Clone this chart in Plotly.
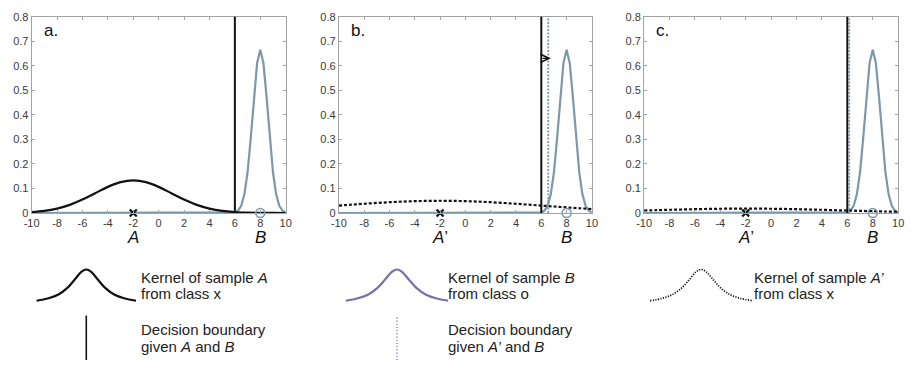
import plotly.graph_objects as go

# ---------------- data ----------------
x_ticks = [-10, -8, -6, -4, -2, 0, 2, 4, 6, 8, 10]
x_tick_labels = [str(v) for v in x_ticks]
y_ticks = [0, 0.1, 0.2, 0.3, 0.4, 0.5, 0.6, 0.7, 0.8]
y_tick_labels = ["0", "0.1", "0.2", "0.3", "0.4", "0.5", "0.6", "0.7", "0.8"]

kernel_x = [-10, -9, -8, -7, -6, -5, -4, -3, -2, -1, 0, 1, 2, 3, 4, 5, 6, 7, 8, 9, 10]
# kernel of sample A (panel a)
kernel_A = [0.0038, 0.0087, 0.0180, 0.0332, 0.0547, 0.0807, 0.1065, 0.1258, 0.1330, 0.1258,
            0.1065, 0.0807, 0.0547, 0.0332, 0.0180, 0.0087, 0.0038, 0.0015, 0.0005, 0.0002, 0.0000]
# kernel of sample A' (panel b)
kernel_A1 = [0.0303, 0.0340, 0.0377, 0.0410, 0.0440, 0.0465, 0.0484, 0.0495, 0.0499, 0.0495,
             0.0484, 0.0465, 0.0440, 0.0410, 0.0377, 0.0340, 0.0303, 0.0265, 0.0228, 0.0194, 0.0162]
# kernel of sample A' (panel c)
kernel_A2 = [0.0102, 0.0116, 0.0131, 0.0144, 0.0156, 0.0166, 0.0174, 0.0178, 0.0180, 0.0178,
             0.0174, 0.0166, 0.0156, 0.0144, 0.0131, 0.0116, 0.0102, 0.0088, 0.0074, 0.0061, 0.0050]
# kernel of sample B
kernel_B_x = [-10, 5.5, 5.75, 6.0, 6.25, 6.5, 6.75, 7.0, 7.25, 7.5, 7.75, 8.0,
              8.25, 8.5, 8.75, 9.0, 9.25, 9.5, 9.75, 10.0]
kernel_B = [0.0, 0.0001, 0.0006, 0.0026, 0.0095, 0.029, 0.076, 0.166, 0.305, 0.470, 0.610, 0.665,
            0.610, 0.470, 0.305, 0.166, 0.076, 0.029, 0.0095, 0.0026]

sample_A = -2
sample_B = 8
boundary_AB = 6.0
boundary_A1B = [None, 6.55, 6.15]   # per panel
arrow_y = 0.63
arrow_end = 6.75

panel_letters = ["a.", "b.", "c."]
panel_kernels_A = [kernel_A, kernel_A1, kernel_A2]
panel_A_labels = ["<i>A</i>", "<i>A</i>’", "<i>A</i>’"]

# legend icon shape
icon_u = [-1, -0.76, -0.56, -0.38, -0.24, -0.1, 0, 0.1, 0.24, 0.38, 0.56, 0.76, 1]
icon_v = [0, 0.08, 0.2, 0.41, 0.66, 0.92, 1, 0.92, 0.66, 0.41, 0.2, 0.08, 0]

# ---------------- style ----------------
W, H = 913, 368
FONT = "Liberation Sans, Arial, sans-serif"
B_COLOR = "#7d98a9"
LEG_COLOR = "#7671ad"
FRAME = "#a3a3a3"
TICKTXT = "#3a3a3a"

def px(x):
    return x / W

def py(y):
    return 1 - y / H

panel_dom_x = [(24, 282), (336, 593), (646, 904)]
panel_dom_y = (py(214), py(11))

fig = go.Figure()
annotations = []
shapes = []

for i in range(3):
    ax = "" if i == 0 else str(i + 1)
    xr, yr = "x" + ax, "y" + ax
    # kernel B
    fig.add_trace(go.Scatter(x=kernel_B_x, y=kernel_B, mode="lines",
                             line=dict(color=B_COLOR, width=2.2),
                             xaxis=xr, yaxis=yr, showlegend=False, hoverinfo="skip"))
    # kernel A / A'
    if i == 0:
        aline = dict(color="#111111", width=2.2, shape="spline")
    else:
        aline = dict(color="#111111", width=2.2, shape="spline", dash="3px,2px")
    fig.add_trace(go.Scatter(x=kernel_x, y=panel_kernels_A[i], mode="lines", line=aline,
                             xaxis=xr, yaxis=yr, showlegend=False, hoverinfo="skip"))
    # samples
    fig.add_trace(go.Scatter(x=[sample_A], y=[0], mode="markers",
                             marker=dict(symbol="x-thin", size=7, line=dict(color="#111", width=2.2)),
                             cliponaxis=False, xaxis=xr, yaxis=yr, showlegend=False, hoverinfo="skip"))
    fig.add_trace(go.Scatter(x=[sample_B], y=[0], mode="markers",
                             marker=dict(symbol="circle-open", size=9, color=B_COLOR,
                                         line=dict(color=B_COLOR, width=1.6)),
                             cliponaxis=False, xaxis=xr, yaxis=yr, showlegend=False, hoverinfo="skip"))
    # decision boundary given A and B
    shapes.append(dict(type="line", xref=xr, yref=yr + " domain", x0=boundary_AB, x1=boundary_AB,
                       y0=0, y1=1, line=dict(color="#111111", width=2)))
    if boundary_A1B[i] is not None:
        shapes.append(dict(type="line", xref=xr, yref=yr + " domain",
                           x0=boundary_A1B[i], x1=boundary_A1B[i], y0=0, y1=1,
                           line=dict(color=B_COLOR, width=1.8, dash="2px,1.5px")))
    # axes
    dx0, dx1 = panel_dom_x[i]
    fig.update_layout(**{
        "xaxis" + ax: dict(domain=[px(dx0), px(dx1)], range=[-10, 10], anchor=yr,
                           tickvals=x_ticks, ticktext=x_tick_labels, ticks="inside", ticklen=3,
                           tickcolor=FRAME, showline=True, linecolor=FRAME, linewidth=1,
                           mirror="ticks", showgrid=False, zeroline=False,
                           tickfont=dict(family=FONT, size=11, color=TICKTXT)),
        "yaxis" + ax: dict(domain=list(panel_dom_y), range=[0, 0.8], anchor=xr,
                           tickvals=y_ticks, ticktext=y_tick_labels, ticks="inside", ticklen=3,
                           tickcolor=FRAME, showline=True, linecolor=FRAME, linewidth=1,
                           mirror="ticks", showgrid=False, zeroline=False,
                           tickfont=dict(family=FONT, size=11, color=TICKTXT)),
    })
    # panel letter
    annotations.append(dict(x=-9.2, y=0.745, xref=xr, yref=yr, text=panel_letters[i],
                            showarrow=False, xanchor="left", yanchor="middle",
                            font=dict(family=FONT, size=17, color="#111")))
    # sample labels
    annotations.append(dict(x=sample_A, y=py(239), xref=xr, yref="paper", text=panel_A_labels[i],
                            showarrow=False, xanchor="center", yanchor="middle",
                            font=dict(family=FONT, size=17, color="#111")))
    annotations.append(dict(x=sample_B, y=py(239), xref=xr, yref="paper", text="<i>B</i>",
                            showarrow=False, xanchor="center", yanchor="middle",
                            font=dict(family=FONT, size=17, color="#111")))

# arrow in panel b
annotations.append(dict(x=arrow_end, y=arrow_y, ax=boundary_AB, ay=arrow_y,
                        xref="x2", yref="y2", axref="x2", ayref="y2", text="", showarrow=True,
                        arrowhead=5, arrowsize=1.5, arrowwidth=1.1, arrowcolor="#111",
                        standoff=0, startstandoff=0))

# ---------------- legend icons ----------------
icon_dom = [(28, 131), (342, 448), (651, 757)]
icon_styles = [dict(color="#111111", width=2.2, shape="spline"),
               dict(color=LEG_COLOR, width=2.2, shape="spline"),
               dict(color="#111111", width=1.7, shape="spline", dash="1.2px,1.4px")]
for j in range(3):
    n = str(4 + j)
    fig.add_trace(go.Scatter(x=icon_u, y=icon_v, mode="lines", line=icon_styles[j],
                             xaxis="x" + n, yaxis="y" + n, showlegend=False, hoverinfo="skip"))
    fig.update_layout(**{
        "xaxis" + n: dict(domain=[px(icon_dom[j][0]), px(icon_dom[j][1])], range=[-1.02, 1.02],
                          visible=False, anchor="y" + n),
        "yaxis" + n: dict(domain=[py(306), py(271)], range=[-0.04, 1.04],
                          visible=False, anchor="x" + n),
    })

# decision boundary icons
shapes.append(dict(type="line", xref="x4 domain", yref="paper", x0=0.5, x1=0.5,
                   y0=py(366), y1=py(320), line=dict(color="#111111", width=1.6)))
shapes.append(dict(type="line", xref="x5 domain", yref="paper", x0=0.5, x1=0.5,
                   y0=py(366), y1=py(320), line=dict(color=LEG_COLOR, width=1.3, dash="1.2px,2px")))

legend_text = [
    (133, 280.5, "Kernel of sample <i>A</i>"), (133, 297.5, "from class x"),
    (445, 280.5, "Kernel of sample <i>B</i>"), (445, 297.5, "from class o"),
    (756, 280.5, "Kernel of sample <i>A’</i>"), (756, 297.5, "from class x"),
    (133, 334.5, "Decision boundary"), (133, 351.5, "given <i>A</i> and <i>B</i>"),
    (445, 334.5, "Decision boundary"), (445, 351.5, "given <i>A’</i> and <i>B</i>"),
]
for (lx, ly, t) in legend_text:
    annotations.append(dict(x=px(lx), y=py(ly), xref="paper", yref="paper", text=t,
                            showarrow=False, xanchor="left", yanchor="middle",
                            font=dict(family=FONT, size=15, color="#222")))

fig.update_layout(width=W, height=H, margin=dict(l=0, r=0, t=0, b=0),
                  paper_bgcolor="white", plot_bgcolor="white",
                  annotations=annotations, shapes=shapes, showlegend=False)

fig.write_html("out.html")
